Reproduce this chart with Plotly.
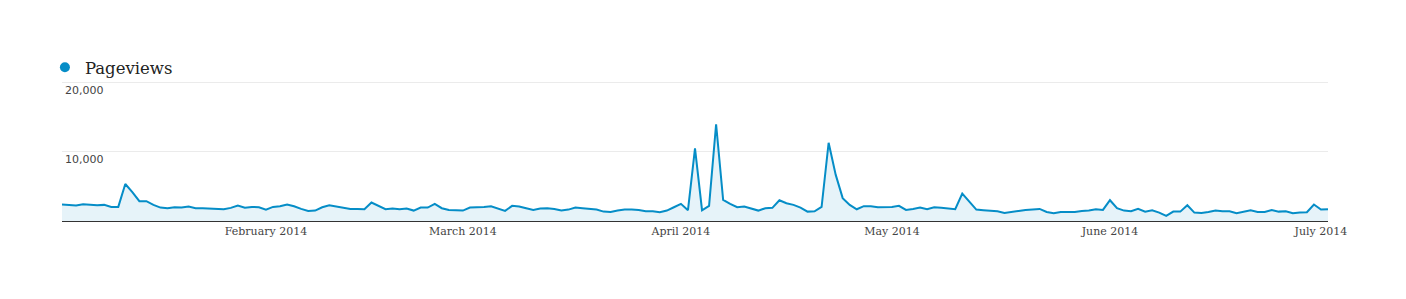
import pandas as pd
import plotly.graph_objects as go

start_date = "2014-01-03"
pageviews = [
    2360, 2270, 2220, 2410, 2320, 2270, 2320, 2030, 2030, 5320,
    4160, 2850, 2850, 2320, 1930, 1840, 1980, 1930, 2080, 1840,
    1840, 1790, 1840, 1690, 1890, 2220, 1900, 2030, 1980, 1640,
    2030, 2130, 2370, 2130, 1740, 1450, 1500, 1980, 2270, 2080,
    1930, 1740, 1740, 1690, 2660, 2180, 1690, 1790, 1690, 1790,
    1500, 1930, 1930, 2470, 1840, 1590, 1500, 1500, 1930, 1930,
    2030, 2130, 1740, 1450, 2180, 2080, 1840, 1590, 1790, 1840,
    1740, 1500, 1640, 1930, 1840, 1790, 1640, 1350, 1300, 1500,
    1640, 1640, 1590, 1400, 1400, 1260, 1500, 1980, 2470, 1550,
    10440, 1550, 2180, 13920, 3045, 2470, 1980, 2080, 1840, 1500,
    1840, 1890, 2990, 2560, 2320, 1930, 1350, 1400, 2030, 11260,
    6670, 3290, 2320, 1690, 2130, 2130, 1980, 1980, 2030, 2180,
    1590, 1740, 1930, 1690, 1980, 1890, 1740, 1690, 3960, 2800,
    1640, 1550, 1450, 1400, 1160, 1350, 1450, 1590, 1640, 1740,
    1300, 1110, 1300, 1260, 1300, 1450, 1500, 1690, 1590, 2990,
    1840, 1500, 1400, 1740, 1350, 1550, 1210, 725, 1350, 1350,
    2270, 1210, 1160, 1300, 1500, 1400, 1400, 1110, 1350, 1550,
    1300, 1300, 1590, 1350, 1400, 1110, 1210, 1260, 2370, 1640,
    1690,
]
series_name = "Pageviews"
y_ticks = [10000, 20000]
y_tick_labels = ["10,000", "20,000"]

dates = pd.date_range(start_date, periods=len(pageviews), freq="D")

BLUE = "#058dc7"

fig = go.Figure()
fig.add_trace(go.Scatter(
    x=dates, y=pageviews, mode="lines",
    line=dict(color=BLUE, width=2),
    fill="tozeroy", fillcolor="rgba(5,141,199,0.1)",
    showlegend=False, name=series_name,
))
fig.add_trace(go.Scatter(
    x=[None], y=[None], mode="markers",
    marker=dict(color=BLUE, size=10, symbol="circle"),
    name=series_name, showlegend=True,
))

fig.update_layout(
    width=1406, height=299,
    margin=dict(l=62, r=78, t=80, b=78),
    paper_bgcolor="white", plot_bgcolor="white",
    showlegend=True,
    legend=dict(
        orientation="h", x=-0.0135, xanchor="left",
        y=1.0 + (80 - 50) / 141, yanchor="top",
        font=dict(family="DejaVu Serif", size=16.5, color="#222"),
        itemwidth=30, bgcolor="rgba(0,0,0,0)",
    ),
    xaxis=dict(
        range=[dates[0], dates[-1]],
        tickformat="%B %Y", dtick="M1", tick0="2014-02-01",
        showgrid=False, showline=True, linecolor="#333", linewidth=1,
        ticks="", zeroline=False,
        tickfont=dict(family="DejaVu Serif", size=11, color="#444"),
    ),
    yaxis=dict(
        range=[0, 20290], tickvals=y_ticks, ticktext=y_tick_labels,
        showgrid=True, gridcolor="#ebebeb", gridwidth=1,
        zeroline=False, showline=False, ticks="",
        ticklabelposition="inside bottom",
        tickfont=dict(family="DejaVu Sans", size=11, color="#444"),
    ),
)

fig.write_html("out.html")
